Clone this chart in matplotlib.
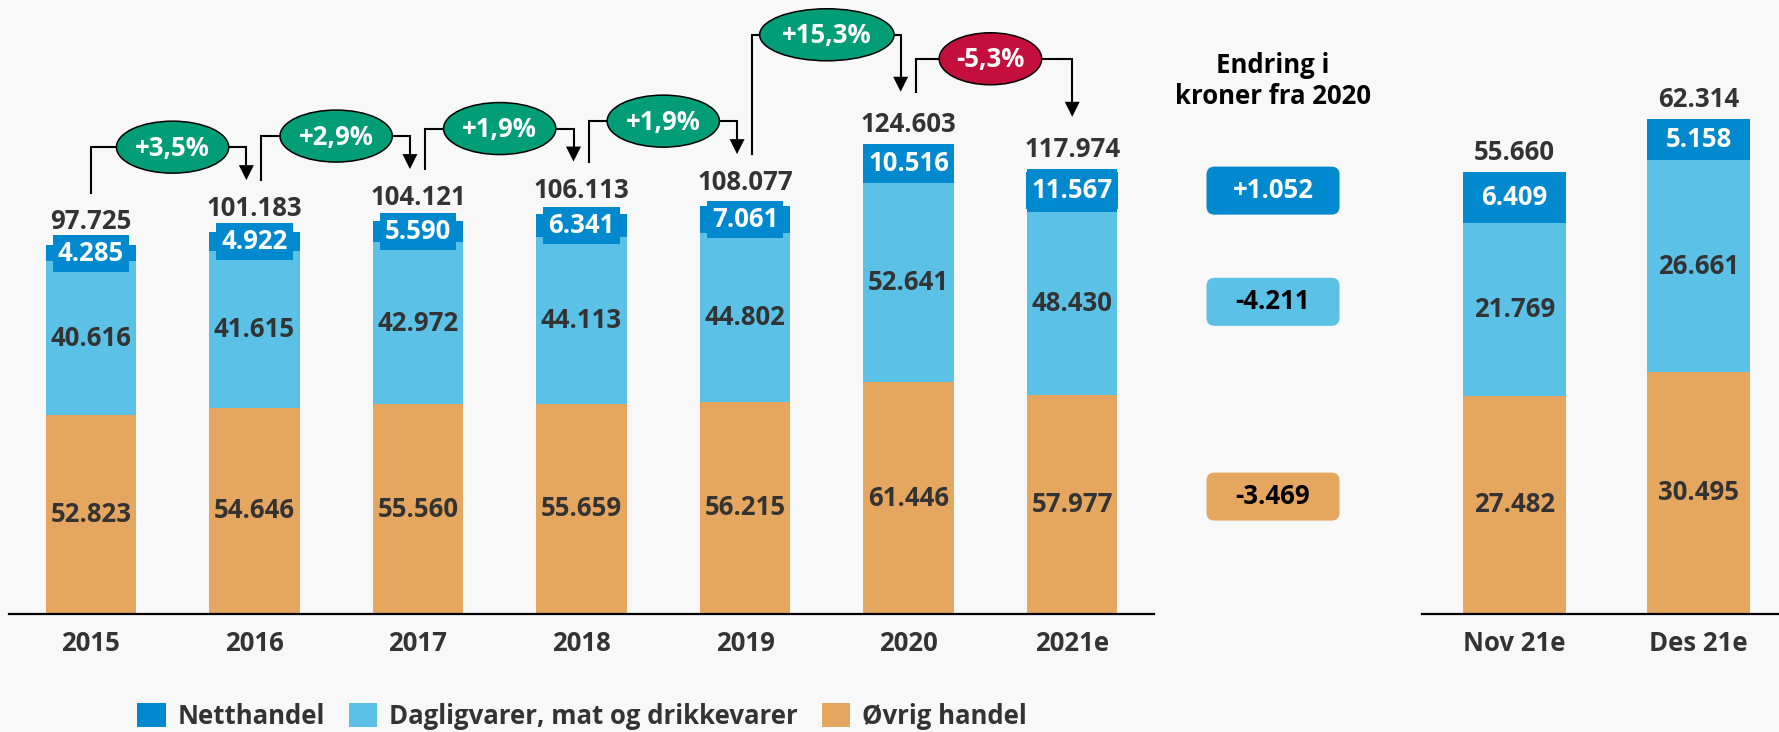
import matplotlib.pyplot as plt
from matplotlib.patches import Ellipse, FancyBboxPatch, Polygon, Patch

plt.rcParams['font.family'] = ['Open Sans', 'DejaVu Sans']
plt.rcParams['font.weight'] = 'bold'

# data
years = ['2015', '2016', '2017', '2018', '2019', '2020', '2021e']
ovrig = [52823, 54646, 55560, 55659, 56215, 61446, 57977]
daglig = [40616, 41615, 42972, 44113, 44802, 52641, 48430]
nett = [4285, 4922, 5590, 6341, 7061, 10516, 11567]
totals = [97725, 101183, 104121, 106113, 108077, 124603, 117974]
growth = ['+3,5%', '+2,9%', '+1,9%', '+1,9%', '+15,3%', '-5,3%']

months = ['Nov 21e', 'Des 21e']
m_ovrig = [27482, 30495]
m_daglig = [21769, 26661]
m_nett = [6409, 5158]
m_totals = [55660, 62314]

change_title = 'Endring i\nkroner fra 2020'
change_labels = ['+1.052', '-4.211', '-3.469']

# style
BG = '#F8F8F8'
DARK = '#0089CF'
LIGHT = '#5BC1E6'
ORANGE = '#E5A65F'
GREEN = '#009D76'
RED = '#C40E3C'
TXT = '#333333'
FS = 18.5

W, H = 1779, 732
fig = plt.figure(figsize=(W / 100, H / 100), dpi=100, facecolor=BG)
base = 614


def fmt(v):
    return f'{v:,}'.replace(',', '.')


def stack(a, x, o, d, n, tot, width, top, right):
    a.set_facecolor(BG)
    a.bar(x, o, width, color=ORANGE)
    a.bar(x, d, width, bottom=o, color=LIGHT)
    bot2 = [p + q for p, q in zip(o, d)]
    a.bar(x, n, width, bottom=bot2, color=DARK)
    a.set_xlim(-0.5, right)
    a.set_ylim(0, top)
    px_per = base / top
    for i in x:
        a.text(i, o[i] / 2, fmt(o[i]), ha='center', va='center', color=TXT, fontsize=FS)
        a.text(i, o[i] + d[i] / 2, fmt(d[i]), ha='center', va='center', color=TXT, fontsize=FS)
        a.text(i, bot2[i] + n[i] / 2, fmt(n[i]), ha='center', va='center', color='white', fontsize=FS,
               bbox=dict(boxstyle='square,pad=0.2', fc=DARK, ec='none'))
        off = 16 if n[i] * px_per < 37 else 12
        a.annotate(fmt(tot[i]), (i, tot[i]), xytext=(0, off), textcoords='offset pixels',
                   ha='center', va='baseline', color=TXT, fontsize=FS)
    for s in ['top', 'left', 'right']:
        a.spines[s].set_visible(False)
    a.spines['bottom'].set_linewidth(1.6)
    a.spines['bottom'].set_color('black')
    a.set_yticks([])
    a.tick_params(axis='x', length=0, pad=11.5, labelsize=FS, labelcolor=TXT)


ax = fig.add_axes([9 / W, (H - base) / H, (1154 - 9) / W, base / H])
ax.set_xticks(range(len(years)), years)
stack(ax, list(range(len(years))), ovrig, daglig, nett, totals, 0.553, 162700, 6.5)

ax2 = fig.add_axes([1422 / W, (H - base) / H, 369 / W, base / H])
ax2.set_xticks(range(len(months)), months)
stack(ax2, list(range(len(months))), m_ovrig, m_daglig, m_nett, m_totals, 0.558, 77330, 1.5)

# overlay in pixel coordinates (origin top-left)
ov = fig.add_axes([0, 0, 1, 1], zorder=5)
ov.set_xlim(0, W)
ov.set_ylim(H, 0)
ov.axis('off')
ov.patch.set_alpha(0)
renderer = fig.canvas.get_renderer()


def to_px(a, x, y):
    d = a.transData.transform((x, y))
    return ov.transData.inverted().transform(d)


lift = [85, 85, 85, 85, 109, 85]
for i, g in enumerate(growth):
    x0, y0 = to_px(ax, i, totals[i])
    x1, y1 = to_px(ax, i + 1, totals[i + 1])
    xs = x0 + (7 if i > 0 else 0)
    xa = x1 - (8 if i + 1 < len(years) - 1 else 0)
    level = min(y0, y1) - lift[i]
    tip = y1 - 52
    ov.plot([xs, xs, xa, xa], [y0 - 52, level, level, tip - 14], color='black', lw=1.5,
            solid_joinstyle='miter', zorder=1)
    ov.add_patch(Polygon([[xa - 7.5, tip - 15], [xa + 7.5, tip - 15], [xa, tip]], closed=True,
                         fc='black', ec='none', zorder=1))
    cx = (x0 + x1) / 2
    t = ov.text(cx, level + 1, g, ha='center', va='center', color='white', fontsize=FS, zorder=3)
    w = t.get_window_extent(renderer=renderer).width * 1.5
    ov.add_patch(Ellipse((cx, level), w, 52, fc=GREEN if g.startswith('+') else RED,
                         ec='black', lw=1.1, zorder=2))

# middle panel
mid_x = 1273
ov.text(mid_x, 81, change_title, ha='center', va='center', color='black', fontsize=FS,
        linespacing=1.2)
seg_mid = [ovrig[-1] + daglig[-1] + nett[-1] / 2, ovrig[-1] + daglig[-1] / 2, ovrig[-1] / 2]
nudge = [0, -2, -8]
for lab, val, dy, fc, tc in zip(change_labels, seg_mid, nudge, [DARK, LIGHT, ORANGE],
                                ['white', 'black', 'black']):
    _, yc = to_px(ax, 0, val)
    yc += dy
    ov.add_patch(FancyBboxPatch((mid_x - 66.5, yc - 24), 133, 48,
                                boxstyle='round,pad=0,rounding_size=8', fc=fc, ec='none'))
    ov.text(mid_x, yc, lab, ha='center', va='center', color=tc, fontsize=FS)

# legend
handles = [Patch(fc=DARK, label='Netthandel'),
           Patch(fc=LIGHT, label='Dagligvarer, mat og drikkevarer'),
           Patch(fc=ORANGE, label='Øvrig handel')]
fig.legend(handles=handles, loc='center', bbox_to_anchor=(582 / W, (H - 716) / H), ncol=3,
           frameon=False, fontsize=FS, handlelength=1.1, handleheight=1.05, handletextpad=0.45,
           columnspacing=0.95, labelcolor=TXT)

fig.savefig('out.png', dpi=100, facecolor=BG)
